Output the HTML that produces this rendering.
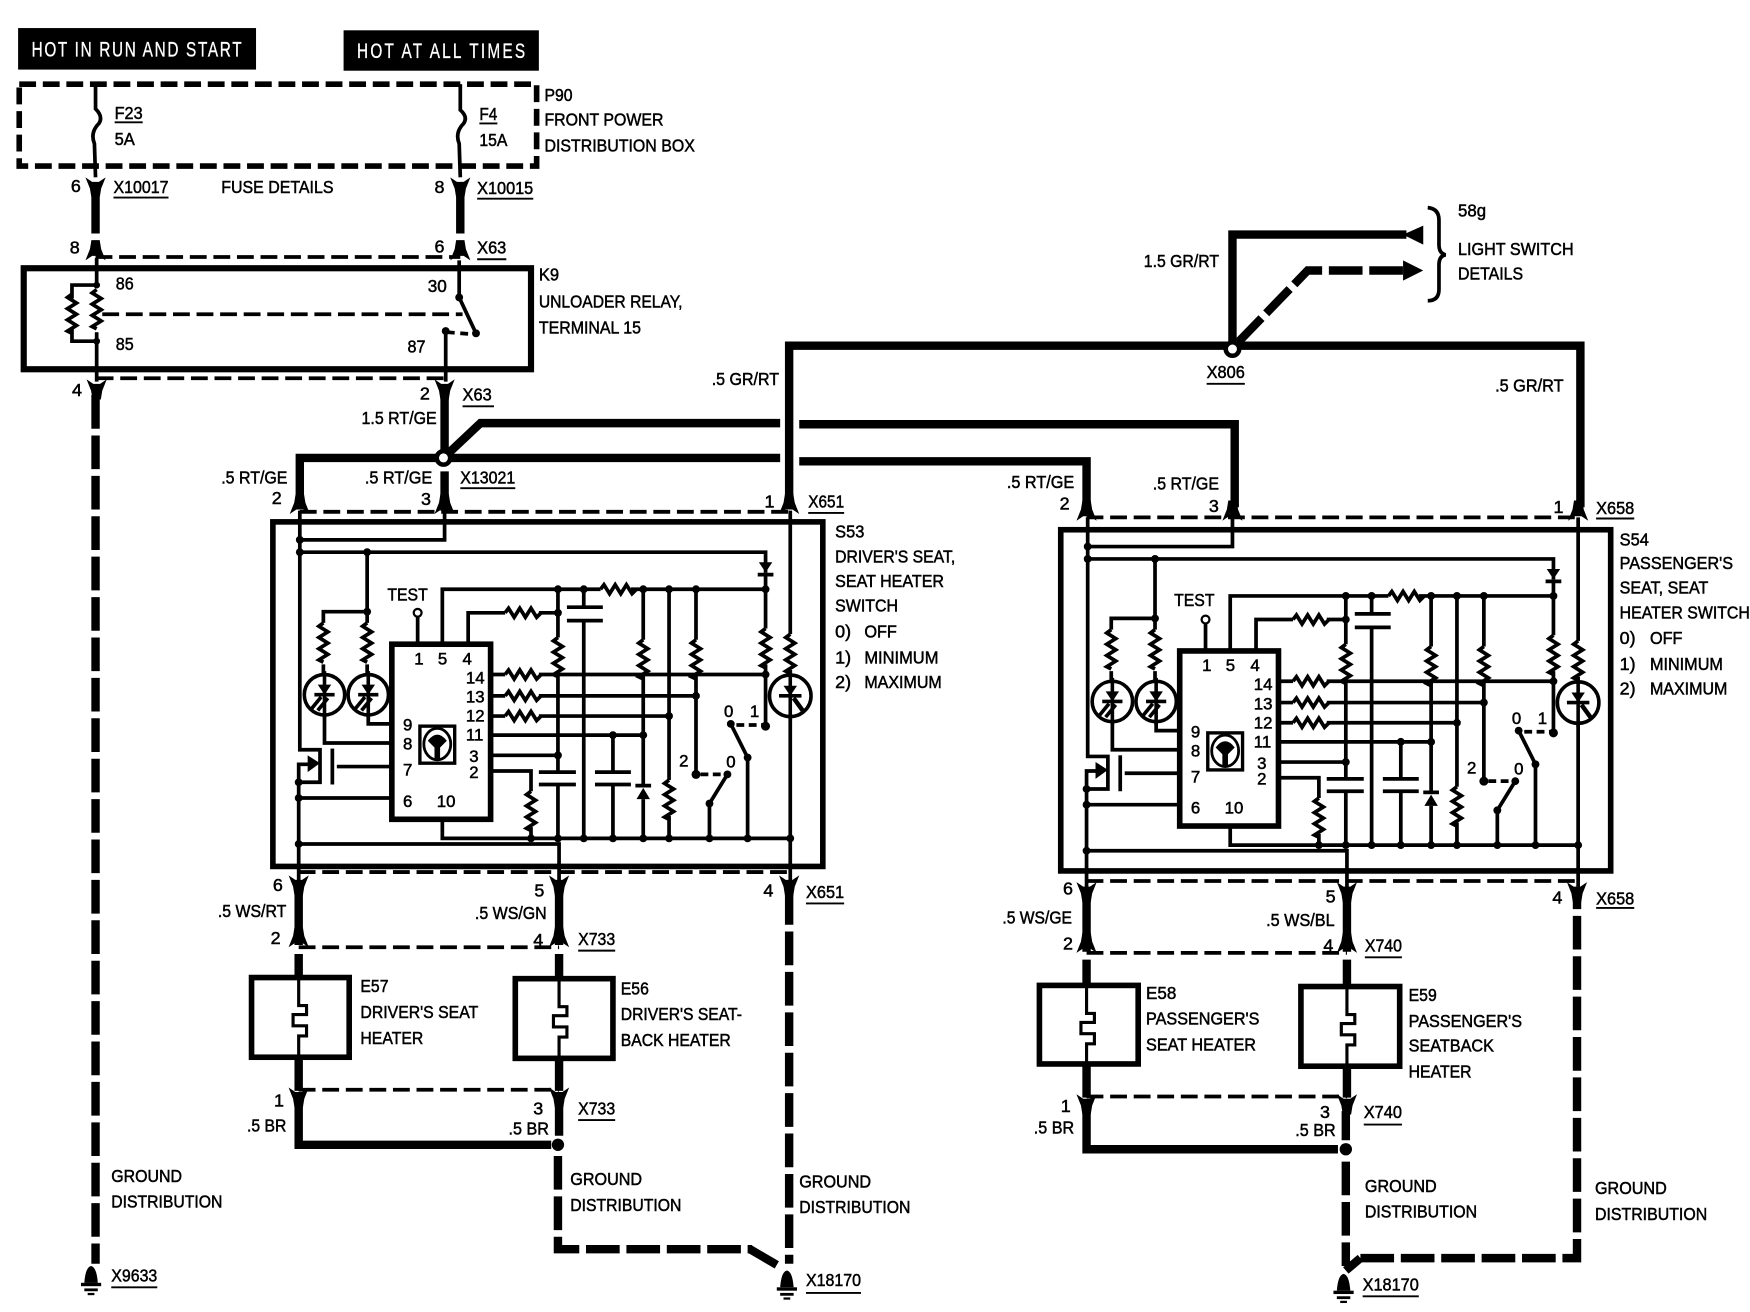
<!DOCTYPE html>
<html><head><meta charset="utf-8"><title>Seat heater wiring diagram</title>
<style>
html,body{margin:0;padding:0;background:#fff}
svg{display:block}
text{font-family:"Liberation Sans",sans-serif;font-size:16px;fill:#000;stroke:#000;stroke-width:.45}
.p{font-size:15px}
.h{fill:#fff;stroke:#fff;stroke-width:.3;font-size:19px}
.t{fill:none;stroke:#000;stroke-width:3.3;stroke-linejoin:miter}
.w{fill:none;stroke:#000;stroke-width:7.5}
.d{fill:none;stroke:#000;stroke-width:3.4;stroke-dasharray:15 6}
.g{fill:none;stroke:#000;stroke-width:7.5;stroke-dasharray:30 6}
.u{fill:none;stroke:#000;stroke-width:1.7}
</style></head><body>
<svg xmlns="http://www.w3.org/2000/svg" width="1750" height="1312" viewBox="0 0 1559 1169">
<defs>
<path id="yd" d="M-9,-6 L-3,-2 L3,-2 L9,-6 L5,4 L3.7,12 L-3.7,12 L-5,4 Z" fill="#000"/>
<path id="yu" d="M-9,6 L-3,2 L3,2 L9,6 L5,-4 L3.7,-12 L-3.7,-12 L-5,-4 Z" fill="#000"/>
<path id="rv" fill="none" stroke="#000" stroke-width="3.3" d="M0,0 l-4,3 l8,5 l-8,5 l8,5 l-8,5 l8,5 l-8,5 l4,2"/>
<path id="rh" fill="none" stroke="#000" stroke-width="3.3" d="M0,0 l3,-4 l5,8 l5,-8 l5,8 l5,-8 l5,8 l4,-4"/>
<g id="led"><circle r="18" fill="#fff" stroke="#000" stroke-width="3.2"/>
<path d="M0,-21 V21" stroke="#000" stroke-width="3.2" fill="none"/>
<path d="M-6,-9 H6 L0,0 Z" fill="#000"/><path d="M-9,0 H9" stroke="#000" stroke-width="3.2"/>
<path d="M-3,2 L-12,13 M3,3 L-6,14" stroke="#000" stroke-width="3.2"/></g>
<g id="led2"><circle r="18.5" fill="#fff" stroke="#000" stroke-width="3.2"/>
<path d="M0,-22 V22" stroke="#000" stroke-width="3.2" fill="none"/>
<path d="M-6,-9 H6 L0,0 Z" fill="#000"/><path d="M-10,0 H10" stroke="#000" stroke-width="3.2"/>
<path d="M3,2 L11,13" stroke="#000" stroke-width="4"/></g>
<g id="heat"><path fill="none" stroke="#000" stroke-width="2.8" d="M0,0 V25 H7 V33 H-5 V43 H7 V52 H0 V72"/></g>
<g id="sw">
<path class="t" d="M267,455 V668 H285 V697 H266 V681 H276 M266,697 V790"/>
<path d="M274,673 L285,680 L274,688 Z" fill="#000"/>
<path class="t" d="M296,667 V699" stroke-width="4"/>
<path class="t" d="M300,683 H349"/>
<path class="t" d="M396,455 V481 H266 M266,492 H682 V510 M327,492 V555 M327,545 H288 V555"/>
<path d="M676,501 H688 L682,510 Z" fill="#000"/><path class="t" d="M675,512 H689 M682,510 V525"/>
<use href="#rv" x="288" y="555"/><use href="#rv" x="327" y="555"/>
<path class="t" d="M288,592 V602 M327,592 V602"/>
<use href="#led" x="289" y="619"/><use href="#led" x="328" y="619"/>
<path class="t" d="M289,636 V662 H349 M328,636 V645 H349"/>
<rect x="349" y="574" width="88" height="156" fill="#fff" stroke="#000" stroke-width="5"/>
<path class="t" d="M372,574 V549 M394,574 V525 H535 M562,525 H682 M417,574 V546 H450 M480,546 H497"/>
<circle cx="372" cy="546" r="3.5" fill="#fff" stroke="#000" stroke-width="2"/>
<use href="#rh" x="535" y="525"/><use href="#rh" x="450" y="546"/>
<path class="t" d="M497,525 V568 M497,602 V688 M497,698 V747"/><use href="#rv" x="497" y="568"/>
<path class="t" d="M480,688 H513 M480,699 H513" stroke-width="3.5"/>
<path class="t" d="M520,525 V541 M520,553 V747 M505,541 H537 M505,553 H537"/>
<path class="t" d="M573,525 V570 M573,602 V700 M573,712 V747"/><use href="#rv" x="573" y="570"/>
<path d="M567,712 H579 L573,702 Z" fill="#000"/><path class="t" d="M566,700 H580"/>
<path class="t" d="M596,525 V655 M596,655 V695 M596,727 V747"/><use href="#rv" x="596" y="695"/>
<path class="t" d="M620,525 V570 M620,602 V690"/><use href="#rv" x="620" y="570"/>
<path class="t" d="M682,525 V560 M682,592 V646"/><use href="#rv" x="682" y="560"/>
<path class="t" d="M437,601 H450 M480,601 H682 M437,620 H450 M480,620 H620 M437,638 H450 M480,638 H596 M437,655 H573 M437,673 H497 M437,687 H473 V705 M473,737 V747"/>
<use href="#rh" x="450" y="601"/><use href="#rh" x="450" y="620"/><use href="#rh" x="450" y="638"/><use href="#rv" x="473" y="705"/>
<path class="t" d="M546,655 V688 M546,699 V747 M530,688 H562 M530,699 H562" />
<path class="t" d="M394,730 V747 H704"/>
<path class="t" d="M651,645 L666,675 V747 M648,690 L632,716 V747"/>
<path class="t" d="M656,646 H682 M624,690 H648" stroke-dasharray="7 4"/>
<circle cx="651" cy="645" r="3.5"/><circle cx="682" cy="647" r="4"/><circle cx="620" cy="690" r="4"/><circle cx="648" cy="690" r="3.5"/>
<path class="t" d="M704,455 V565 M704,597 V790"/><use href="#rv" x="704" y="565"/>
<use href="#led2" x="704" y="620"/>
<path class="t" d="M266,711 H349 M266,752 H498 V790"/>
<rect x="374" y="647" width="31" height="33" fill="#fff" stroke="#000" stroke-width="3"/>
<ellipse cx="389.5" cy="663" rx="12" ry="14" fill="none" stroke="#000" stroke-width="2.5"/>
<path d="M381,660 Q389.5,649 398,660 L392,666 V676 H387 V666 Z" fill="#000"/>
<g fill="#000">
<circle cx="267" cy="481" r="3.5"/><circle cx="267" cy="492" r="3.5"/><circle cx="327" cy="492" r="3.5"/><circle cx="327" cy="545" r="3.5"/>
<circle cx="497" cy="525" r="3.5"/><circle cx="520" cy="525" r="3.5"/><circle cx="573" cy="525" r="3.5"/><circle cx="596" cy="525" r="3.5"/><circle cx="620" cy="525" r="3.5"/><circle cx="682" cy="525" r="3.5"/>
<circle cx="497" cy="546" r="3.5"/><circle cx="682" cy="601" r="3.5"/><circle cx="620" cy="620" r="3.5"/><circle cx="596" cy="638" r="3.5"/><circle cx="546" cy="655" r="3.5"/><circle cx="573" cy="655" r="3.5"/><circle cx="497" cy="673" r="3.5"/>
<circle cx="473" cy="747" r="3.5"/><circle cx="497" cy="747" r="3.5"/><circle cx="520" cy="747" r="3.5"/><circle cx="546" cy="747" r="3.5"/><circle cx="573" cy="747" r="3.5"/><circle cx="596" cy="747" r="3.5"/><circle cx="632" cy="747" r="3.5"/><circle cx="666" cy="747" r="3.5"/><circle cx="704" cy="747" r="3.5"/>
<circle cx="266" cy="697" r="3.5"/><circle cx="266" cy="711" r="3.5"/><circle cx="266" cy="752" r="3.5"/><circle cx="632" cy="716" r="3.5"/><circle cx="666" cy="675" r="3.5"/>
</g>
</g>
<g id="gnd" fill="#000"><path d="M-6,7 Q-5,-7 0,-8 Q5,-7 6,7 Z"/><rect x="-9" y="7" width="18" height="3"/><rect x="-6" y="12" width="12" height="2.5"/><rect x="-3" y="16" width="6" height="2"/></g>
</defs>

<rect width="1559" height="1169" fill="#fff"/>

<!-- headers -->
<rect x="16" y="25" width="212" height="37"/>
<rect x="306" y="27" width="174" height="36"/>
<text class="h" transform="translate(28,50.5) scale(.72,1)" textLength="260" lengthAdjust="spacing">HOT IN RUN AND START</text>
<text class="h" transform="translate(318,51.5) scale(.72,1)" textLength="208" lengthAdjust="spacing">HOT AT ALL TIMES</text>

<!-- P90 -->
<rect x="17" y="75" width="461" height="73" fill="none" stroke="#000" stroke-width="5" stroke-dasharray="15 6"/>
<path class="t" d="M85,75 V97 Q92,104 88,110 Q80,118 84,128 L85,158"/>
<path class="t" d="M410,75 V98 Q417,104 413,110 Q405,118 409,128 L410,158"/>
<use href="#yd" x="85" y="164"/><use href="#yd" x="410" y="164"/>
<path class="w" d="M85,176 V208 M410,176 V208"/>
<use href="#yu" x="85" y="226"/><use href="#yu" x="410" y="226"/>
<path class="d" d="M85,229 H410"/>

<!-- K9 -->
<rect x="21" y="239" width="452" height="90" fill="none" stroke="#000" stroke-width="5.5"/>
<path class="t" d="M86,230 V254 M86,304 V340 M409,232 V265 L424,297"/>
<path class="t" d="M86,254 H64 V266 M64,292 V304 H86"/>
<use href="#rv" x="86" y="258" /><use href="#rv" x="64" y="262"/>
<path class="t" d="M86,296 V304"/>
<path class="d" d="M91,280 H412"/>
<path class="t" d="M397,295 V340"/>
<path class="t" d="M398,296 L424,298" stroke-dasharray="7 5"/>
<circle cx="397" cy="295" r="3.5"/><circle cx="424" cy="297" r="3.5"/><circle cx="409" cy="265" r="3.5"/>
<circle cx="86" cy="254" r="3"/><circle cx="86" cy="304" r="3"/>
<path class="d" d="M86,337 H396"/>
<use href="#yd" x="86" y="344"/><use href="#yd" x="396" y="344"/>
<path class="w" d="M396,350 V410"/>
<path class="g" d="M85,352 V1126"/>
<use href="#gnd" x="81" y="1136"/>

<!-- main harness -->
<path class="w" d="M267,447 V408 H395 M395,408 H695 M712,411 H968 V452 M395,408 L428,377 H695 M712,378 H1100 V452"/>
<path class="w" d="M396,420 V455" />
<path class="w" d="M703,452 V308 H1408 V452"/>
<path class="w" d="M1098,308 V209 H1253"/>
<path class="w" d="M1103,305 L1165,241 H1253" stroke-dasharray="30 6"/>
<path d="M1268,201 V218 L1250,209 Z" fill="#000"/>
<path d="M1250,232 V250 L1268,241 Z" fill="#000"/>
<path class="t" d="M1272,185 Q1282,186 1282,196 V218 Q1282,226 1288,227 Q1282,228 1282,236 V258 Q1282,268 1272,268"/>
<circle cx="395" cy="408" r="6" fill="#fff" stroke="#000" stroke-width="4"/>
<circle cx="1098" cy="311" r="6" fill="#fff" stroke="#000" stroke-width="4"/>

<!-- connectors top S53/S54 -->
<use href="#yu" x="267" y="452"/><use href="#yu" x="396" y="452"/><use href="#yu" x="703" y="452"/>
<path class="d" d="M267,456 H703"/>
<use href="#yu" x="968" y="458"/><use href="#yu" x="1098" y="458"/><use href="#yu" x="1406" y="458"/>
<path class="d" d="M968,461 H1408"/>

<!-- switches -->
<rect x="243" y="465" width="490" height="307" fill="none" stroke="#000" stroke-width="5"/>
<rect x="945" y="472" width="490" height="304" fill="none" stroke="#000" stroke-width="5"/>
<use href="#sw"/>
<use href="#sw" transform="translate(702,6)"/>

<!-- lower S53 -->
<path class="d" d="M266,777 H703"/>
<use href="#yd" x="266" y="786"/><use href="#yd" x="498" y="786"/><use href="#yd" x="703" y="786"/>
<path class="w" d="M266,790 V842 M498,790 V842"/>
<path class="d" d="M266,844 H498"/>
<use href="#yu" x="266" y="838"/><use href="#yu" x="498" y="838"/>
<path class="w" d="M266,850 V870 M498,850 V871 M266,942 V972 M498,943 V972"/>
<rect x="224" y="871" width="87" height="71" fill="#fff" stroke="#000" stroke-width="5"/>
<rect x="459" y="872" width="87" height="71" fill="#fff" stroke="#000" stroke-width="5"/>
<use href="#heat" x="266" y="871"/><use href="#heat" x="498" y="872"/>
<path class="d" d="M266,971 H498"/>
<use href="#yd" x="266" y="975"/><use href="#yd" x="498" y="975"/>
<path class="w" d="M266,985 V1020 H491 M498,985 V1012"/>
<circle cx="497" cy="1020" r="5.5"/>
<path class="g" d="M497,1030 V1113 H670"/>
<path class="w" d="M668,1113 L692,1127"/>
<path class="g" d="M703,794 V1126"/>
<use href="#gnd" x="701" y="1140"/>

<!-- lower S54 -->
<path class="d" d="M968,785 H1405"/>
<use href="#yd" x="968" y="792"/><use href="#yd" x="1200" y="792"/><use href="#yd" x="1405" y="792"/>
<path class="w" d="M968,796 V848 M1200,796 V848"/>
<path class="d" d="M968,849 H1200"/>
<use href="#yu" x="968" y="843"/><use href="#yu" x="1200" y="843"/>
<path class="w" d="M968,855 V878 M1200,855 V879 M968,948 V978 M1200,950 V978"/>
<rect x="926" y="878" width="88" height="70" fill="#fff" stroke="#000" stroke-width="5"/>
<rect x="1159" y="879" width="88" height="71" fill="#fff" stroke="#000" stroke-width="5"/>
<use href="#heat" x="968" y="878"/><use href="#heat" x="1200" y="879"/>
<path class="d" d="M968,977 H1200"/>
<use href="#yd" x="968" y="981"/><use href="#yd" x="1200" y="981"/>
<path class="w" d="M968,990 V1024 H1192 M1199,990 V1016"/>
<circle cx="1199" cy="1024" r="5.5"/>
<path class="g" d="M1199,1035 V1128"/>
<path class="w" d="M1199,1132 L1212,1121"/>
<path class="g" d="M1212,1121 H1405 V800"/>
<use href="#gnd" x="1197" y="1143"/>

<!-- underlines -->
<path class="u" d="M102,109 H127 M427,110 H443 M101,176 H150 M425,177 H475 M425,231 H451 M412,362 H440 M410,435 H459 M720,457 H752 M1075,342 H1109 M1422,462 H1456 M718,805 H752 M515,847 H548 M515,998 H548 M99,1147 H140 M718,1152 H767 M1422,809 H1456 M1216,853 H1249 M1215,1002 H1249 M1214,1155 H1264"/>

<!-- text -->
<text x="102" y="106" textLength="25" lengthAdjust="spacingAndGlyphs">F23</text>
<text x="102" y="129" textLength="18" lengthAdjust="spacingAndGlyphs">5A</text>
<text x="427" y="107" textLength="16" lengthAdjust="spacingAndGlyphs">F4</text>
<text x="427" y="130" textLength="25" lengthAdjust="spacingAndGlyphs">15A</text>
<text x="485" y="90" textLength="25" lengthAdjust="spacingAndGlyphs">P90</text>
<text x="485" y="112" textLength="106" lengthAdjust="spacingAndGlyphs">FRONT POWER</text>
<text x="485" y="135" textLength="134" lengthAdjust="spacingAndGlyphs">DISTRIBUTION BOX</text>
<text x="63" y="171">6</text>
<text x="101" y="172" textLength="49" lengthAdjust="spacingAndGlyphs">X10017</text>
<text x="197" y="172" textLength="100" lengthAdjust="spacingAndGlyphs">FUSE DETAILS</text>
<text x="387" y="172">8</text>
<text x="425" y="173" textLength="50" lengthAdjust="spacingAndGlyphs">X10015</text>
<text x="62" y="226">8</text>
<text x="387" y="225">6</text>
<text x="425" y="226" textLength="26" lengthAdjust="spacingAndGlyphs">X63</text>
<text x="103" y="258" textLength="16" lengthAdjust="spacingAndGlyphs">86</text>
<text x="103" y="312" textLength="16" lengthAdjust="spacingAndGlyphs">85</text>
<text x="381" y="260" textLength="17" lengthAdjust="spacingAndGlyphs">30</text>
<text x="363" y="314" textLength="16" lengthAdjust="spacingAndGlyphs">87</text>
<text x="480" y="250" textLength="18" lengthAdjust="spacingAndGlyphs">K9</text>
<text x="480" y="274" textLength="128" lengthAdjust="spacingAndGlyphs">UNLOADER RELAY,</text>
<text x="480" y="297" textLength="91" lengthAdjust="spacingAndGlyphs">TERMINAL 15</text>
<text x="64" y="353">4</text>
<text x="374" y="356">2</text>
<text x="412" y="357" textLength="26" lengthAdjust="spacingAndGlyphs">X63</text>
<text x="322" y="378" textLength="67" lengthAdjust="spacingAndGlyphs">1.5 RT/GE</text>
<text x="197" y="431" textLength="59" lengthAdjust="spacingAndGlyphs">.5 RT/GE</text>
<text x="325" y="431" textLength="60" lengthAdjust="spacingAndGlyphs">.5 RT/GE</text>
<text x="242" y="449">2</text>
<text x="375" y="450">3</text>
<text x="410" y="431" textLength="49" lengthAdjust="spacingAndGlyphs">X13021</text>
<text x="681" y="452">1</text>
<text x="720" y="452" textLength="32" lengthAdjust="spacingAndGlyphs">X651</text>
<text x="634" y="343" textLength="60" lengthAdjust="spacingAndGlyphs">.5 GR/RT</text>
<text x="1075" y="337" textLength="34" lengthAdjust="spacingAndGlyphs">X806</text>
<text x="1332" y="349" textLength="61" lengthAdjust="spacingAndGlyphs">.5 GR/RT</text>
<text x="1019" y="238" textLength="67" lengthAdjust="spacingAndGlyphs">1.5 GR/RT</text>
<text x="1299" y="193" textLength="25" lengthAdjust="spacingAndGlyphs">58g</text>
<text x="1299" y="227" textLength="103" lengthAdjust="spacingAndGlyphs">LIGHT SWITCH</text>
<text x="1299" y="249" textLength="58" lengthAdjust="spacingAndGlyphs">DETAILS</text>
<text x="897" y="435" textLength="60" lengthAdjust="spacingAndGlyphs">.5 RT/GE</text>
<text x="1027" y="436" textLength="59" lengthAdjust="spacingAndGlyphs">.5 RT/GE</text>
<text x="944" y="454">2</text>
<text x="1077" y="456">3</text>
<text x="1384" y="457">1</text>
<text x="1422" y="458" textLength="34" lengthAdjust="spacingAndGlyphs">X658</text>

<text x="744" y="479" textLength="26" lengthAdjust="spacingAndGlyphs">S53</text>
<text x="744" y="501" textLength="107" lengthAdjust="spacingAndGlyphs">DRIVER'S SEAT,</text>
<text x="744" y="523" textLength="97" lengthAdjust="spacingAndGlyphs">SEAT HEATER</text>
<text x="744" y="545" textLength="56" lengthAdjust="spacingAndGlyphs">SWITCH</text>
<text x="744" y="568">0)</text><text x="770" y="568" textLength="29" lengthAdjust="spacingAndGlyphs">OFF</text>
<text x="744" y="591">1)</text><text x="770" y="591" textLength="66" lengthAdjust="spacingAndGlyphs">MINIMUM</text>
<text x="744" y="613">2)</text><text x="770" y="613" textLength="69" lengthAdjust="spacingAndGlyphs">MAXIMUM</text>

<text x="1443" y="486" textLength="26" lengthAdjust="spacingAndGlyphs">S54</text>
<text x="1443" y="507" textLength="101" lengthAdjust="spacingAndGlyphs">PASSENGER'S</text>
<text x="1443" y="529" textLength="79" lengthAdjust="spacingAndGlyphs">SEAT, SEAT</text>
<text x="1443" y="551" textLength="116" lengthAdjust="spacingAndGlyphs">HEATER SWITCH</text>
<text x="1443" y="574">0)</text><text x="1470" y="574" textLength="29" lengthAdjust="spacingAndGlyphs">OFF</text>
<text x="1443" y="597">1)</text><text x="1470" y="597" textLength="65" lengthAdjust="spacingAndGlyphs">MINIMUM</text>
<text x="1443" y="619">2)</text><text x="1470" y="619" textLength="69" lengthAdjust="spacingAndGlyphs">MAXIMUM</text>

<!-- S53 pin labels -->
<g>
<text x="345" y="535" textLength="36" lengthAdjust="spacingAndGlyphs">TEST</text>
<text class="p" x="369" y="592">1</text><text class="p" x="390" y="592">5</text><text class="p" x="412" y="592">4</text>
<text class="p" x="415" y="609">14</text><text class="p" x="415" y="626">13</text><text class="p" x="415" y="643">12</text><text class="p" x="415" y="660">11</text>
<text class="p" x="418" y="679">3</text><text class="p" x="418" y="693">2</text>
<text class="p" x="359" y="651">9</text><text class="p" x="359" y="668">8</text><text class="p" x="359" y="691">7</text><text class="p" x="359" y="719">6</text><text class="p" x="389" y="719">10</text>
<text class="p" x="645" y="639">0</text><text class="p" x="668" y="639">1</text><text class="p" x="605" y="683">2</text><text class="p" x="647" y="684">0</text>
</g>
<!-- S54 pin labels -->
<g>
<text x="1046" y="540" textLength="36" lengthAdjust="spacingAndGlyphs">TEST</text>
<text class="p" x="1071" y="598">1</text><text class="p" x="1092" y="598">5</text><text class="p" x="1114" y="598">4</text>
<text class="p" x="1117" y="615">14</text><text class="p" x="1117" y="632">13</text><text class="p" x="1117" y="649">12</text><text class="p" x="1117" y="666">11</text>
<text class="p" x="1120" y="685">3</text><text class="p" x="1120" y="699">2</text>
<text class="p" x="1061" y="657">9</text><text class="p" x="1061" y="674">8</text><text class="p" x="1061" y="697">7</text><text class="p" x="1061" y="725">6</text><text class="p" x="1091" y="725">10</text>
<text class="p" x="1347" y="645">0</text><text class="p" x="1370" y="645">1</text><text class="p" x="1307" y="689">2</text><text class="p" x="1349" y="690">0</text>
</g>

<text x="243" y="794">6</text>
<text x="476" y="799">5</text>
<text x="680" y="799">4</text>
<text x="718" y="800" textLength="34" lengthAdjust="spacingAndGlyphs">X651</text>
<text x="194" y="817" textLength="61" lengthAdjust="spacingAndGlyphs">.5 WS/RT</text>
<text x="423" y="819" textLength="64" lengthAdjust="spacingAndGlyphs">.5 WS/GN</text>
<text x="241" y="841">2</text>
<text x="475" y="843">4</text>
<text x="515" y="842" textLength="33" lengthAdjust="spacingAndGlyphs">X733</text>
<text x="321" y="884" textLength="25" lengthAdjust="spacingAndGlyphs">E57</text>
<text x="321" y="907" textLength="105" lengthAdjust="spacingAndGlyphs">DRIVER'S SEAT</text>
<text x="321" y="930" textLength="56" lengthAdjust="spacingAndGlyphs">HEATER</text>
<text x="553" y="886" textLength="25" lengthAdjust="spacingAndGlyphs">E56</text>
<text x="553" y="909" textLength="108" lengthAdjust="spacingAndGlyphs">DRIVER'S SEAT-</text>
<text x="553" y="932" textLength="98" lengthAdjust="spacingAndGlyphs">BACK HEATER</text>
<text x="244" y="986">1</text>
<text x="475" y="993">3</text>
<text x="515" y="993" textLength="33" lengthAdjust="spacingAndGlyphs">X733</text>
<text x="220" y="1008" textLength="35" lengthAdjust="spacingAndGlyphs">.5 BR</text>
<text x="453" y="1011" textLength="36" lengthAdjust="spacingAndGlyphs">.5 BR</text>
<text x="99" y="1053" textLength="63" lengthAdjust="spacingAndGlyphs">GROUND</text>
<text x="99" y="1076" textLength="99" lengthAdjust="spacingAndGlyphs">DISTRIBUTION</text>
<text x="99" y="1142" textLength="41" lengthAdjust="spacingAndGlyphs">X9633</text>
<text x="508" y="1056" textLength="64" lengthAdjust="spacingAndGlyphs">GROUND</text>
<text x="508" y="1079" textLength="99" lengthAdjust="spacingAndGlyphs">DISTRIBUTION</text>
<text x="712" y="1058" textLength="64" lengthAdjust="spacingAndGlyphs">GROUND</text>
<text x="712" y="1081" textLength="99" lengthAdjust="spacingAndGlyphs">DISTRIBUTION</text>
<text x="718" y="1146" textLength="49" lengthAdjust="spacingAndGlyphs">X18170</text>

<text x="947" y="797">6</text>
<text x="1181" y="804">5</text>
<text x="1383" y="805">4</text>
<text x="1422" y="806" textLength="34" lengthAdjust="spacingAndGlyphs">X658</text>
<text x="893" y="823" textLength="62" lengthAdjust="spacingAndGlyphs">.5 WS/GE</text>
<text x="1128" y="825" textLength="61" lengthAdjust="spacingAndGlyphs">.5 WS/BL</text>
<text x="947" y="846">2</text>
<text x="1179" y="848">4</text>
<text x="1216" y="848" textLength="33" lengthAdjust="spacingAndGlyphs">X740</text>
<text x="1021" y="890" textLength="27" lengthAdjust="spacingAndGlyphs">E58</text>
<text x="1021" y="913" textLength="101" lengthAdjust="spacingAndGlyphs">PASSENGER'S</text>
<text x="1021" y="936" textLength="98" lengthAdjust="spacingAndGlyphs">SEAT HEATER</text>
<text x="1255" y="892" textLength="25" lengthAdjust="spacingAndGlyphs">E59</text>
<text x="1255" y="915" textLength="101" lengthAdjust="spacingAndGlyphs">PASSENGER'S</text>
<text x="1255" y="937" textLength="76" lengthAdjust="spacingAndGlyphs">SEATBACK</text>
<text x="1255" y="960" textLength="56" lengthAdjust="spacingAndGlyphs">HEATER</text>
<text x="945" y="991">1</text>
<text x="1176" y="996">3</text>
<text x="1215" y="996" textLength="34" lengthAdjust="spacingAndGlyphs">X740</text>
<text x="921" y="1010" textLength="36" lengthAdjust="spacingAndGlyphs">.5 BR</text>
<text x="1154" y="1012" textLength="36" lengthAdjust="spacingAndGlyphs">.5 BR</text>
<text x="1216" y="1062" textLength="64" lengthAdjust="spacingAndGlyphs">GROUND</text>
<text x="1216" y="1085" textLength="100" lengthAdjust="spacingAndGlyphs">DISTRIBUTION</text>
<text x="1421" y="1064" textLength="64" lengthAdjust="spacingAndGlyphs">GROUND</text>
<text x="1421" y="1087" textLength="100" lengthAdjust="spacingAndGlyphs">DISTRIBUTION</text>
<text x="1214" y="1150" textLength="50" lengthAdjust="spacingAndGlyphs">X18170</text>
</svg>
</body></html>
